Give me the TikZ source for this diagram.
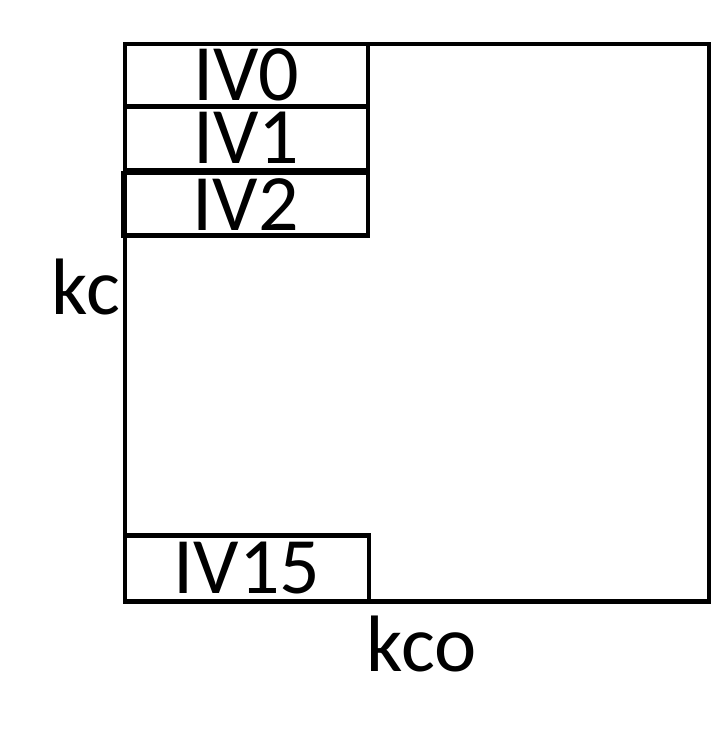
\documentclass[tikz,border=0pt]{standalone}
\usepackage{fontspec}
\setmainfont{Carlito}
\begin{document}
\begin{tikzpicture}[x=1pt,y=1pt,line width=4.8pt,
	ivbox/.style={draw,inner sep=0pt,minimum width=243pt,minimum height=#1},
	lbl/.style={anchor=base,inner sep=0pt}]
	\useasboundingbox (0,0) rectangle (712,744);
	\fontsize{80}{96}\selectfont

	\draw (125,700) rectangle (709,142.5);

	\node[ivbox=62.5pt] (iv0) at (246.5,668.75) {IV0};
	\node[ivbox=63.5pt] (iv1) at (246.5,605.75) {IV1};
	\node[ivbox=62.5pt,minimum width=244.5pt] (iv2) at (245.75,539.75) {IV2};
	\node[ivbox=66pt,minimum width=244pt] (iv15) at (247,175.5) {IV15};

	\node[lbl] (kc) at (86,429) {kc};
	\node[lbl] (kco) at (421.5,72) {kco};
\end{tikzpicture}
\end{document}
